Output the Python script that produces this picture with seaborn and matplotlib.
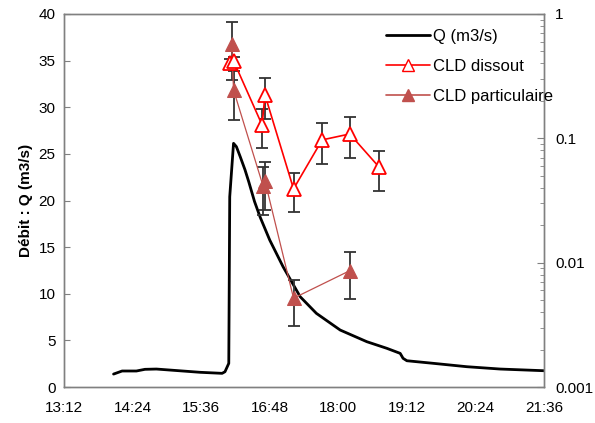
import numpy as np
import pandas as pd
import matplotlib
matplotlib.use("Agg")
import matplotlib.pyplot as plt
from matplotlib.ticker import FuncFormatter, FixedLocator, LogLocator, NullFormatter
from matplotlib.lines import Line2D
import seaborn as sns

# times in minutes since midnight
q_time = [844, 853, 868, 877, 889, 935, 958, 961, 965, 966, 970, 973, 977, 982, 986,
          992, 998, 1008, 1022, 1040, 1057, 1082, 1110, 1131, 1145, 1148, 1152,
          1180, 1215, 1250, 1296]
q_value = [1.39, 1.72, 1.72, 1.9, 1.93, 1.58, 1.47, 1.64, 2.54, 20.4, 26.13, 25.77,
           24.7, 23.3, 22.0, 19.9, 18.2, 15.76, 12.9, 9.68, 7.9, 6.11, 4.86, 4.15, 3.61,
           3.08, 2.82, 2.54, 2.18, 1.93, 1.75]

diss_time = [966, 970, 1000, 1003, 1033, 1063, 1092, 1123]
diss_value = [0.404, 0.42, 0.128, 0.2235, 0.0392, 0.0971, 0.1084, 0.0585]
diss_err = [0.03, 0.03, 0.045, 0.08, 0.0137, 0.035, 0.039, 0.021]

part_time = [968, 970, 1001, 1003, 1033, 1092]
part_value = [0.574, 0.245, 0.0414, 0.0454, 0.00518, 0.00862]
part_err = [0.28, 0.105, 0.017, 0.019, 0.0021, 0.0035]

x_ticks = [792, 864, 936, 1008, 1080, 1152, 1224, 1296]

sns.set_style("white")
plt.rcParams["font.family"] = ["Liberation Sans", "DejaVu Sans"]
plt.rcParams["text.color"] = "black"

df_q = pd.DataFrame({"t": q_time, "Q": q_value})
df_d = pd.DataFrame({"t": diss_time, "v": diss_value, "e": diss_err})
df_p = pd.DataFrame({"t": part_time, "v": part_value, "e": part_err})

fig = plt.figure(figsize=(5.95, 4.23), dpi=100)
ax = fig.add_axes([0.1076, 0.085, 0.8067, 0.882])
ax2 = ax.twinx()

sns.lineplot(data=df_q, x="t", y="Q", ax=ax, color="black", lw=2, estimator=None, sort=False)

red = "#FF0000"
brick = "#C0504D"
ax2.errorbar(df_d["t"], df_d["v"], yerr=df_d["e"], fmt="none", ecolor="#333333",
             elinewidth=1.3, capsize=4, capthick=1.3, zorder=2)
ax2.errorbar(df_p["t"], df_p["v"], yerr=df_p["e"], fmt="none", ecolor="#333333",
             elinewidth=1.3, capsize=4, capthick=1.3, zorder=2)
sns.lineplot(data=df_p, x="t", y="v", ax=ax2, color=brick, lw=0.9, marker="^",
             markersize=10, markerfacecolor=brick, markeredgecolor=brick,
             estimator=None, sort=False, zorder=3)
sns.lineplot(data=df_d, x="t", y="v", ax=ax2, color=red, lw=1.2, marker="^",
             markersize=10, markerfacecolor="white", markeredgecolor=red,
             markeredgewidth=1.3, estimator=None, sort=False, zorder=4)

ax.set_xlim(792, 1296)
ax.set_ylim(0, 40)
ax2.set_yscale("log")
ax2.set_ylim(0.001, 1)

ax.xaxis.set_major_locator(FixedLocator(x_ticks))
ax.xaxis.set_major_formatter(FuncFormatter(lambda v, p: f"{int(v) // 60}:{int(v) % 60:02d}"))
ax.set_yticks(np.arange(0, 41, 5))
ax2.yaxis.set_major_locator(LogLocator(base=10))
ax2.yaxis.set_minor_locator(LogLocator(base=10, subs=np.arange(2, 10)))
ax2.yaxis.set_minor_formatter(NullFormatter())
ax2.yaxis.set_major_formatter(FuncFormatter(lambda v, p: f"{v:g}"))

for a in (ax, ax2):
    for s in a.spines.values():
        s.set_color("#808080")
        s.set_linewidth(1)
ax.tick_params(axis="both", direction="in", length=4, color="#808080", labelsize=11,
               pad=6, labelcolor="black")
ax.tick_params(axis="x", pad=10)
ax2.tick_params(axis="y", which="major", direction="in", length=5, color="#808080",
                labelsize=11, pad=8, labelcolor="black")
ax2.tick_params(axis="y", which="minor", direction="in", length=3, color="#808080")

ax.set_xlabel("")
ax2.set_ylabel("")
ax.set_ylabel("Débit : Q (m3/s)", fontsize=11, fontweight="bold", labelpad=4, color="black")

handles = [
    Line2D([], [], color="black", lw=2),
    Line2D([], [], color=red, lw=1.2, marker="^", markersize=8, markerfacecolor="white",
           markeredgecolor=red),
    Line2D([], [], color=brick, lw=1.2, marker="^", markersize=8, markerfacecolor=brick,
           markeredgecolor=brick),
]
ax2.legend(handles, ["Q (m3/s)", "CLD dissout", "CLD particulaire"], loc="upper right",
           bbox_to_anchor=(1.05, 1.0), frameon=False, fontsize=12, handlelength=2.6,
           handletextpad=0.2, labelspacing=0.9, labelcolor="black")

fig.savefig("out.png", dpi=100)
